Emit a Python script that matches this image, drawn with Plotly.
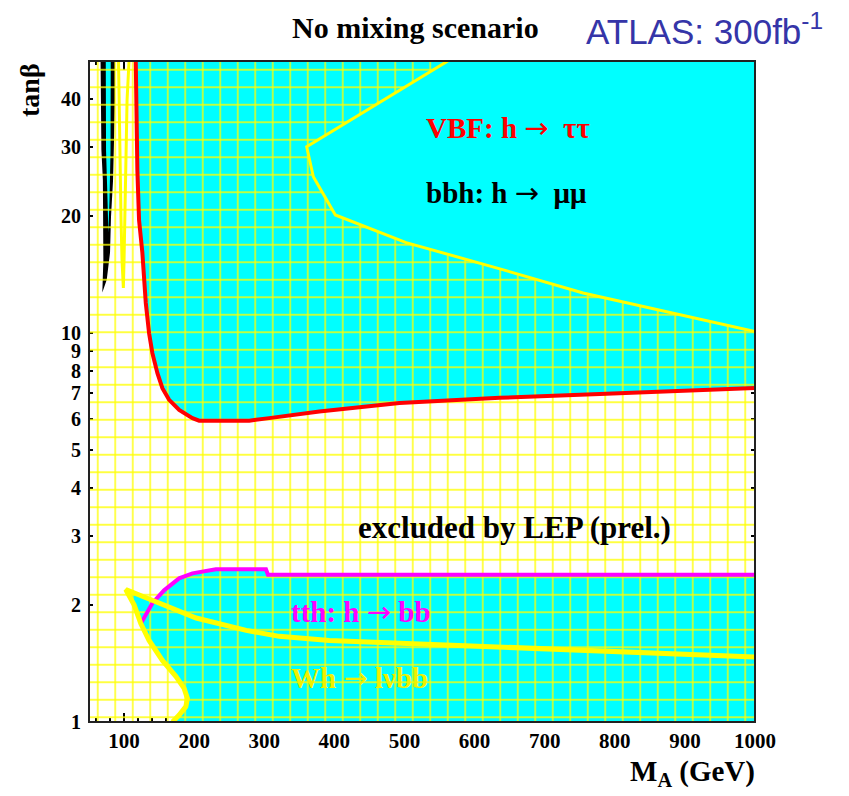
import plotly.graph_objects as go
import numpy as np

# ---------------- data ----------------
# axis
x_range = [50, 1000]
y_range = [1, 50]
x_tickvals = [100, 200, 300, 400, 500, 600, 700, 800, 900, 1000]
y_tickvals = [1, 2, 3, 4, 5, 6, 7, 8, 9, 10, 20, 30, 40]
y_ticktext = ["1", "2", "3", "4", "5", "6", "7", "8", "9", "10", "20", "30", "40"]

# VBF h->tautau contour (red)
vbf_x = [116.7, 117.1, 119.0, 121.4, 126.1, 131.0, 135.7, 140.4, 147.6, 154.7, 164.3,
         178.6, 197.6, 207.1, 278.6, 307.1, 340.4, 378.6, 492.9, 635.7, 778.6, 1000]
vbf_y = [50, 40.9, 26.2, 19.5, 16.1, 11.94, 9.98, 8.87, 7.88, 7.21, 6.73,
         6.34, 6.04, 5.95, 5.95, 6.04, 6.16, 6.28, 6.61, 6.81, 6.97, 7.22]

# bbh h->mumu contour (yellow)
bbh_x = [561.9, 360.5, 370.0, 401.4, 502.4, 631.0, 754.8, 1000]
bbh_y = [50, 30.1, 25.2, 20.1, 17.07, 14.7, 12.67, 10.08]

# black contour at very low M_A
blk_left_x = [66.5, 66.9, 67.7, 69.8, 70.5, 70.5, 69.0]
blk_left_y = [50, 39.7, 29.5, 24.7, 19.5, 15.4, 12.7]
blk_right_x = [75.3, 80.0, 81.4, 84.3, 85.7, 87.1, 87.1]
blk_right_y = [13.7, 16.1, 19.9, 24.7, 29.5, 39.7, 50]
sliver_x = [73.9, 74.3, 76.4, 77.6, 79.3, 80.7, 81.0]
sliver_y = [50, 29.5, 22.0, 18.1, 22.0, 29.5, 50]

# narrow yellow spike
spike_x = [92.1, 93.6, 95.7, 97.1, 99.0, 100.0, 102.1, 104.3, 107.1]
spike_y = [50, 29.5, 19.5, 15.4, 13.05, 15.4, 24.7, 39.7, 50]

# tth h->bb contour (magenta)
tth_x = [123.9, 140.4, 157.1, 178.6, 197.6, 231.0, 302.4, 305.3, 1000]
tth_y = [1.79, 2.02, 2.18, 2.34, 2.41, 2.47, 2.47, 2.39, 2.39]

# Wh -> l nu bb contour (yellow): upper branch (tip -> right) and left branch (tip -> bottom)
wh_up_x = [102.4, 145.7, 202.9, 274.3, 321.4, 392.9, 560.0, 797.0, 1000]
wh_up_y = [2.19, 2.03, 1.85, 1.72, 1.66, 1.62, 1.57, 1.52, 1.47]
wh_lo_x = [102.4, 114.3, 123.9, 135.7, 154.7, 173.9, 185.7, 190.4, 188.1, 178.6, 169.0]
wh_lo_y = [2.19, 2.0, 1.79, 1.62, 1.44, 1.31, 1.22, 1.15, 1.095, 1.042, 1.0]

# ---------------- styles ----------------
CYAN = "#00ffff"
YEL = "#ffff00"
RED = "#ff0000"
MAG = "#ff00ff"
SERIF = "Liberation Serif"
ARROW = '<span style="font-family:\'DejaVu Sans\';font-weight:normal">→</span>'

fig = go.Figure()

def fill_poly(xs, ys, color, **kw):
    fig.add_trace(go.Scatter(x=xs, y=ys, mode="lines", fill="toself",
                             fillcolor=color, line=dict(width=0, color=color),
                             hoverinfo="skip", showlegend=False, **kw))

def line(xs, ys, color, width):
    fig.add_trace(go.Scatter(x=xs, y=ys, mode="lines",
                             line=dict(color=color, width=width),
                             hoverinfo="skip", showlegend=False))

xmin, xmax = x_range
ymin, ymax = y_range

# VBF / bbh discovery region (cyan)
fill_poly(vbf_x + [xmax], vbf_y + [ymax], CYAN)
# Wh region
fill_poly(wh_up_x + [xmax] + wh_lo_x[::-1], wh_up_y + [ymin] + wh_lo_y[::-1], CYAN)
# tth region
lo_idx = [i for i, v in enumerate(wh_lo_y) if v <= tth_y[0]]
fill_poly(tth_x + [xmax] + [wh_lo_x[i] for i in lo_idx[::-1]],
          tth_y + [ymin] + [wh_lo_y[i] for i in lo_idx[::-1]], CYAN)
# black contour and its cyan interior
fill_poly(blk_left_x + blk_right_x, blk_left_y + blk_right_y, "#000000")
fill_poly(sliver_x, sliver_y, CYAN)

# LEP-excluded hatch: everywhere except the bbh region
fig.add_trace(go.Scatter(
    x=[xmin, xmax, xmax] + bbh_x[::-1] + [xmin],
    y=[ymin, ymin, bbh_y[-1]] + bbh_y[::-1] + [ymax],
    mode="lines", fill="toself", line=dict(width=0),
    fillpattern=dict(shape="+", size=17.5, solidity=0.15, fgcolor=YEL,
                     bgcolor="rgba(0,0,0,0)", fillmode="replace"),
    hoverinfo="skip", showlegend=False))

# contours
line(vbf_x, vbf_y, RED, 4)
line([bbh_x[0], xmax, xmax], [ymax, ymax, vbf_y[-1]], RED, 2)
line(bbh_x, bbh_y, YEL, 3)
line(spike_x, spike_y, YEL, 3)
line(tth_x, tth_y, MAG, 4)
line(wh_up_x[::-1] + wh_lo_x[1:], wh_up_y[::-1] + wh_lo_y[1:], YEL, 5)

# ---------------- layout ----------------
# the page body has an 8px margin; figure is sized so the plot area lands at
# x 89..755, y 61..722 of the window
OFF = 8
W, H = 849 - OFF, 796 - OFF
L, R, T, B = 89 - OFF, 94, 61 - OFF, 74
pw, ph = W - L - R, H - T - B

def px(x):
    return (x - OFF - L) / pw

def py(y):
    return (H + OFF - B - y) / ph

tickfont = dict(family=SERIF, size=20, color="black", weight="bold")

fig.update_layout(
    width=W, height=H,
    margin=dict(l=L, r=R, t=T, b=B, pad=0),
    paper_bgcolor="white", plot_bgcolor="white",
    xaxis=dict(range=x_range, tickvals=x_tickvals, ticks="inside", ticklen=9,
               tickcolor="black", tickwidth=1.5, showgrid=False, zeroline=False,
               showline=False, mirror="ticks", layer="below traces",
               tickfont=dict(family=SERIF, size=21, color="black", weight="bold"),
               ticklabelstandoff=4,
               minor=dict(dtick=20, tick0=0, ticks="inside", ticklen=4,
                          tickcolor="black", showgrid=False)),
    yaxis=dict(type="log", range=[np.log10(ymin), np.log10(ymax)],
               tickvals=y_tickvals, ticktext=y_ticktext, ticks="inside",
               ticklen=4, tickcolor="black", tickwidth=1.5, showgrid=False,
               zeroline=False, showline=False, mirror="ticks",
               layer="below traces", tickfont=tickfont, ticklabelstandoff=7),
    shapes=[dict(type="rect", xref="paper", yref="paper", x0=0, x1=1, y0=0, y1=1,
                 line=dict(color="#222222", width=2), layer="above")],
    annotations=[
        dict(text="No mixing scenario", x=px(415), y=py(28), xref="paper", yref="paper",
             showarrow=False, xanchor="center", yanchor="middle",
             font=dict(family=SERIF, size=30, color="black", weight="bold")),
        dict(text="ATLAS: 300fb<sup>-1</sup>", x=px(584), y=py(29), xref="paper", yref="paper",
             showarrow=False, xanchor="left", yanchor="middle",
             font=dict(family="Liberation Sans", size=35, color="#3535a8")),
        dict(text="tanβ", x=px(30), y=py(90), xref="paper", yref="paper", textangle=-90,
             showarrow=False, xanchor="center", yanchor="middle",
             font=dict(family=SERIF, size=28, color="black", weight="bold")),
        dict(text="M<sub>A</sub> (GeV)", x=px(757), y=py(773), xref="paper", yref="paper",
             showarrow=False, xanchor="right", yanchor="middle",
             font=dict(family=SERIF, size=29, color="black", weight="bold")),
        dict(text="VBF: h " + ARROW + "  ττ", x=px(424), y=py(128), xref="paper", yref="paper",
             showarrow=False, xanchor="left", yanchor="middle",
             font=dict(family=SERIF, size=29, color=RED, weight="bold")),
        dict(text="bbh: h " + ARROW + "  μμ", x=px(424), y=py(193), xref="paper", yref="paper",
             showarrow=False, xanchor="left", yanchor="middle",
             font=dict(family=SERIF, size=29, color="black", weight="bold")),
        dict(text="excluded by LEP (prel.)", x=px(356), y=py(527), xref="paper", yref="paper",
             showarrow=False, xanchor="left", yanchor="middle",
             font=dict(family=SERIF, size=31, color="black", weight="bold")),
        dict(text="tth: h " + ARROW + " bb", x=px(289), y=py(612), xref="paper", yref="paper",
             showarrow=False, xanchor="left", yanchor="middle",
             font=dict(family=SERIF, size=29, color=MAG, weight="bold")),
        dict(text="Wh " + ARROW + " lνbb", x=px(289), y=py(678), xref="paper", yref="paper",
             showarrow=False, xanchor="left", yanchor="middle",
             font=dict(family=SERIF, size=29, color="#f0f000", weight="bold")),
    ],
)

fig.write_html("out.html")
